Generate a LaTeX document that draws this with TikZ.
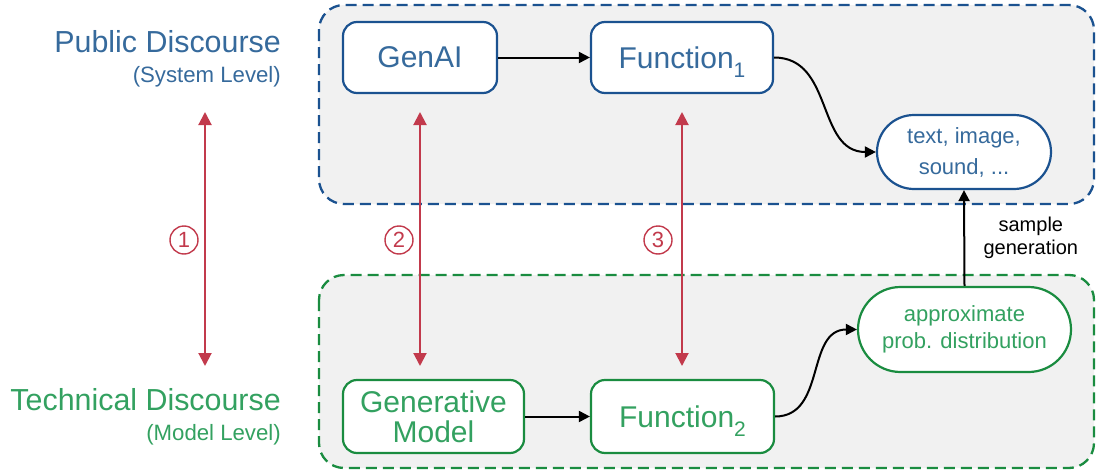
\documentclass[tikz,border=0pt]{standalone}
\usepackage{fontspec}
\setmainfont{Liberation Sans}
\usetikzlibrary{arrows.meta,shapes.misc}

\definecolor{publine}{HTML}{1B5290}
\definecolor{pubtext}{HTML}{366A9C}
\definecolor{techline}{HTML}{1A8C40}
\definecolor{techtext}{HTML}{33A160}
\definecolor{linkred}{HTML}{C23A4C}
\definecolor{panel}{HTML}{F1F1F1}

% subscript index drawn in the text font, without changing the line's depth
\newcommand{\idx}[1]{\raisebox{-0.32em}[0pt][0pt]{\fontsize{21}{21}\selectfont #1}}

\tikzset{
  panelbox/.style={dash pattern=on 11pt off 6pt, line width=2.3pt, fill=panel, rounded corners=25pt},
  box/.style={draw, fill=white, line width=2.2pt, rounded corners=14pt, inner sep=0pt, align=center,
    font=\fontsize{30}{31}\selectfont},
  pill/.style={draw, fill=white, line width=2.2pt, rounded rectangle, inner sep=0pt, align=center},
  pubbox/.style={box, draw=publine, text=pubtext},
  techbox/.style={box, draw=techline, text=techtext},
  flow/.style={-{Triangle[width=11pt,length=11pt]}, line width=2pt, black},
  link/.style={{Triangle[width=13pt,length=13pt]}-{Triangle[width=13pt,length=13pt]}, line width=2pt, linkred},
  numcirc/.style={circle, draw=linkred, line width=1.4pt, minimum size=28pt, inner sep=0pt,
    text=linkred, font=\fontsize{22}{22}\selectfont},
  level/.style={anchor=base east, inner sep=0pt},
  bigtitle/.style={font=\fontsize{30.4}{32}\selectfont},
  subtitle/.style={font=\fontsize{22.2}{24}\selectfont},
}

\begin{document}
\begin{tikzpicture}[x=1pt, y=-1pt]
\useasboundingbox (0,0) rectangle (1096,471);

% the two discourse panels
\draw[panelbox, draw=publine] (319,5) rectangle (1094,204);
\draw[panelbox, draw=techline] (319,275) rectangle (1094,468);

% level titles
\node[level, bigtitle, text=pubtext] (pubtitle) at (281,52) {Public Discourse};
\node[level, subtitle, text=pubtext] (pubsub) at (281,82) {(System Level)};
\node[level, bigtitle, text=techtext] (techtitle) at (281,410) {Technical Discourse};
\node[level, subtitle, text=techtext] (techsub) at (281,440) {(Model Level)};

% system level
\node[pubbox, minimum width=154pt, minimum height=71pt] (genai) at (420,57.5) {GenAI};
\node[pubbox, minimum width=182pt, minimum height=71pt] (fone) at (682,57.5) {Function\idx{1}};
\node[pill, draw=publine, text=pubtext, minimum width=174pt, minimum height=74pt,
  font=\fontsize{22}{31}\selectfont] (output) at (964,152) {text, image,\\sound, ...};

% model level
\node[techbox, minimum width=181pt, minimum height=73pt, font=\fontsize{30}{30}\selectfont] (genmodel) at (433.5,416.5) {Generative\\Model};
\node[techbox, minimum width=183pt, minimum height=73pt] (ftwo) at (682.5,416.5) {Function\idx{2}};
\node[pill, draw=techline, text=techtext, minimum width=213pt, minimum height=85pt,
  font=\fontsize{22}{27}\selectfont] (approx) at (964.5,329.5) {approximate\\prob. distribution};

% flows
\draw[flow] (genai) -- (fone);
\draw[flow] (genmodel) -- (ftwo);
\draw[flow] (fone.east) to[out=0, in=180, looseness=1.1] (output.west);
\draw[flow] (ftwo.east) to[out=0, in=180, looseness=1.1] (approx.west);
\draw[flow] (approx.north) -- (output.south)
  node[midway, right=15pt, align=center, font=\fontsize{20}{23}\selectfont] (samplelbl) {sample\\generation};

% correspondences between the levels
\coordinate (aone) at (205,112);  \coordinate (bone) at (205,366);
\coordinate (atwo) at (420,112);  \coordinate (btwo) at (420,366);
\coordinate (athree) at (682,112); \coordinate (bthree) at (682,366);
\draw[link] (aone) -- (bone);
\draw[link] (atwo) -- (btwo);
\draw[link] (athree) -- (bthree);
\node[numcirc] (none) at (184,240) {1};
\node[numcirc] (ntwo) at (399,240) {2};
\node[numcirc] (nthree) at (658,240) {3};
\end{tikzpicture}
\end{document}
